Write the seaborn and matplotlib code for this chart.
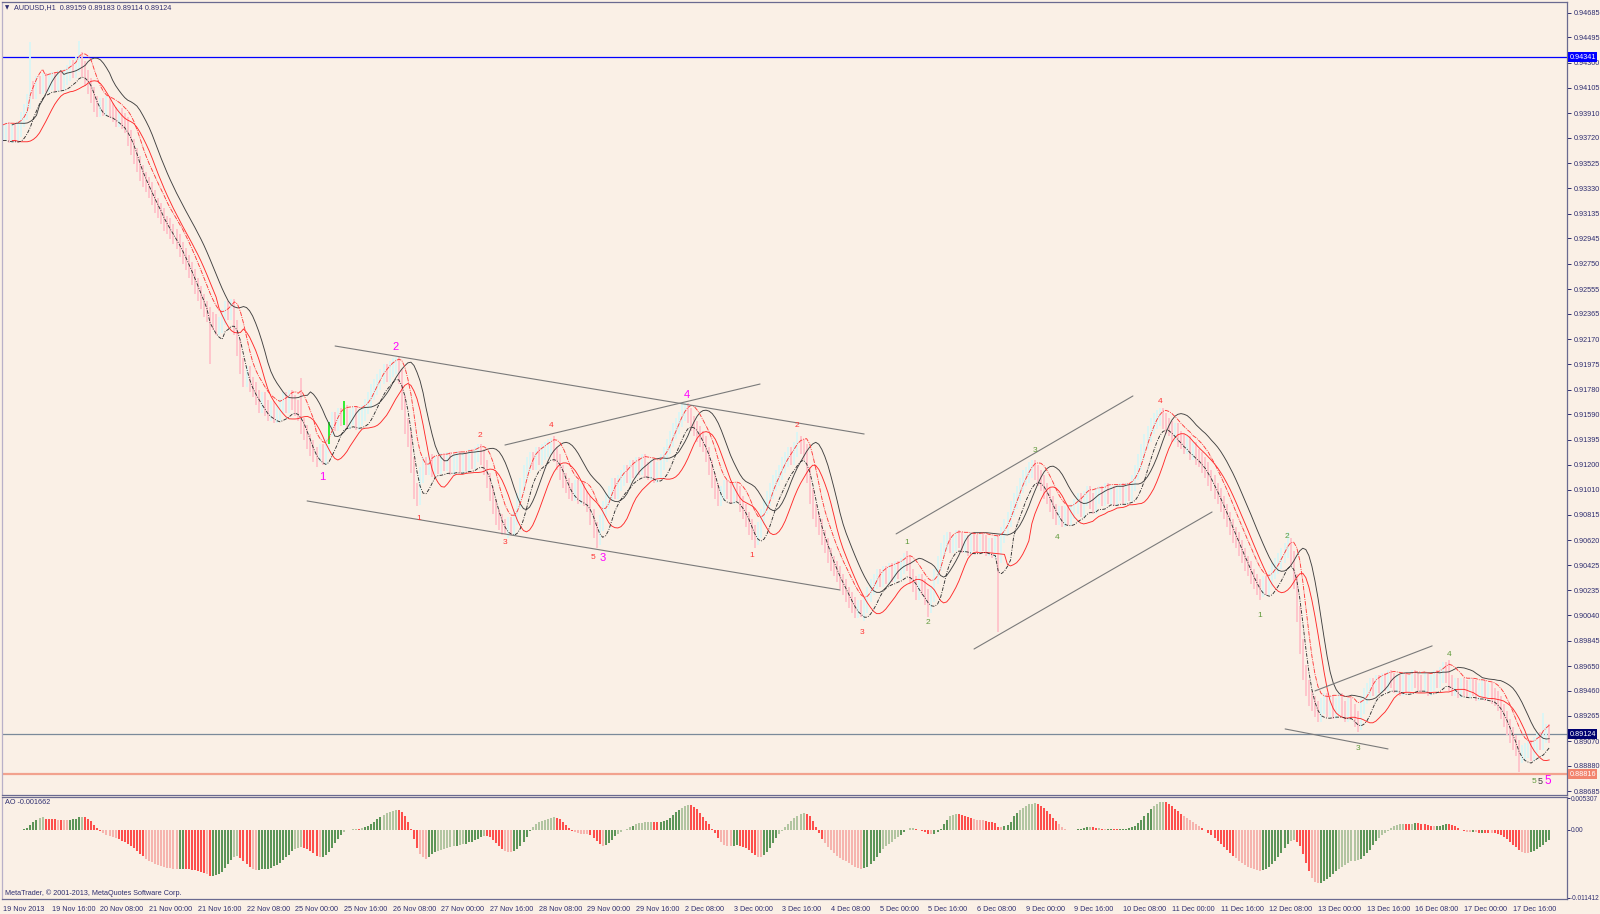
import numpy as np
import pandas as pd
import seaborn as sns
import matplotlib.pyplot as plt
from matplotlib.transforms import blended_transform_factory

# hourly closes (price x 10000), one row = 16 bars = one time label step
closes = [
    9376, 9378, 9374, 9377, 9375, 9379, 9386, 9392, 9400, 9410, 9408, 9414, 9412, 9416, 9413, 9415,
    9417, 9414, 9418, 9415, 9419, 9422, 9426, 9424, 9429, 9432, 9425, 9418, 9412, 9405, 9398, 9394,
    9397, 9395, 9398, 9393, 9390, 9386, 9389, 9385, 9382, 9372, 9365, 9358, 9352, 9345, 9340, 9336,
    9332, 9326, 9320, 9316, 9312, 9306, 9304, 9300, 9296, 9292, 9286, 9281, 9276, 9270, 9265, 9258,
    9252, 9246, 9240, 9236, 9232, 9230, 9226, 9228, 9234, 9240, 9238, 9242, 9226, 9210, 9196, 9186,
    9190, 9182, 9178, 9172, 9166, 9170, 9164, 9160, 9163, 9158, 9160, 9165, 9170, 9166, 9172, 9168,
    9164, 9160, 9150, 9145, 9138, 9133, 9128, 9124, 9130, 9126, 9135, 9148, 9155, 9152, 9158, 9156,
    9160, 9154, 9157, 9159, 9153, 9156, 9160, 9165, 9170, 9176, 9180, 9184, 9188, 9192, 9190, 9194,
    9196, 9198, 9188, 9168, 9150, 9140, 9120, 9100, 9095, 9112, 9120, 9118, 9122, 9117, 9121, 9119,
    9123, 9121, 9124, 9118, 9122, 9125, 9120, 9124, 9121, 9126, 9123, 9128, 9130, 9126, 9118, 9108,
    9098, 9088, 9080, 9076, 9072, 9070, 9074, 9072, 9080, 9092, 9104, 9114, 9120, 9124, 9122, 9128,
    9126, 9130, 9132, 9134, 9136, 9128, 9122, 9114, 9108, 9104, 9100, 9098, 9102, 9096, 9100, 9094,
    9090, 9080, 9070, 9064, 9075, 9086, 9092, 9098, 9104, 9100, 9106, 9110, 9114, 9112, 9118, 9116,
    9120, 9118, 9122, 9116, 9114, 9118, 9112, 9116, 9122, 9128, 9134, 9140, 9146, 9150, 9155, 9160,
    9162, 9158, 9152, 9148, 9144, 9140, 9136, 9128, 9118, 9108, 9100, 9094, 9098, 9102, 9100, 9096,
    9100, 9098, 9090, 9084, 9078, 9072, 9068, 9064, 9070, 9080, 9088, 9094, 9100, 9106, 9110, 9114,
    9120, 9124, 9128, 9126, 9132, 9136, 9134, 9130, 9112, 9096, 9084, 9078, 9072, 9064, 9058, 9050,
    9044, 9040, 9036, 9030, 9026, 9020, 9016, 9012, 9008, 9010, 9006, 9012, 9020, 9026, 9030, 9034,
    9032, 9036, 9034, 9038, 9036, 9040, 9038, 9042, 9046, 9044, 9034, 9028, 9022, 9030, 9026, 9018,
    9012, 9020, 9034, 9044, 9054, 9060, 9062, 9058, 9060, 9064, 9062, 9058, 9060, 9056, 9062, 9060,
    9058, 9062, 9060, 9056, 9058, 9054, 9060, 9050, 9066, 9072, 9078, 9086, 9092, 9098, 9104, 9110,
    9112, 9116, 9118, 9114, 9110, 9106, 9100, 9096, 9090, 9084, 9080, 9082, 9078, 9082, 9080, 9084,
    9088, 9092, 9086, 9094, 9098, 9092, 9088, 9096, 9098, 9094, 9100, 9096, 9098, 9094, 9098, 9100,
    9096, 9100, 9098, 9106, 9114, 9122, 9130, 9138, 9144, 9150, 9154, 9156, 9158, 9154, 9150, 9148,
    9144, 9146, 9140, 9138, 9134, 9136, 9130, 9132, 9126, 9124, 9120, 9116, 9110, 9106, 9100, 9096,
    9090, 9084, 9078, 9072, 9066, 9062, 9056, 9050, 9044, 9040, 9034, 9030, 9026, 9024, 9028, 9026,
    9032, 9038, 9042, 9046, 9050, 9054, 9058, 9048, 9030, 9005, 8980, 8960, 8948, 8940, 8936, 8932,
    8928, 8934, 8938, 8932, 8936, 8930, 8934, 8938, 8932, 8928, 8934, 8930, 8924, 8922, 8934, 8942,
    8946, 8950, 8948, 8952, 8950, 8954, 8952, 8956, 8954, 8950, 8952, 8948, 8954, 8950, 8952, 8956,
    8954, 8952, 8950, 8954, 8948, 8952, 8956, 8954, 8958, 8962, 8958, 8952, 8948, 8950, 8946, 8950,
    8948, 8946, 8950, 8948, 8944, 8946, 8948, 8944, 8946, 8942, 8940, 8936, 8930, 8924, 8918, 8912,
    8906, 8902, 8896, 8898, 8900, 8902, 8898, 8904, 8908, 8906, 8912, 8914, 8912,
]

# long wicks (bar index, price x 10000)
spike_hi_bars = [9, 25, 98, 129, 157, 180, 223, 261, 297, 339, 380, 422, 475, 506]
spike_hi_vals = [9446, 9447, 9187, 9203, 9136, 9141, 9168, 9145, 9054, 9124, 9164, 9068, 8970, 8929]
spike_lo_bars = [68, 104, 136, 165, 195, 247, 282, 304, 327, 413, 445, 498]
spike_lo_vals = [9198, 9122, 9088, 9067, 9056, 9056, 9003, 9003, 8991, 9016, 8914, 8883]

# bright green marker bars
green_bars = [107, 112]
green_lo = [0.91360, 0.91510]
green_hi = [0.91530, 0.91690]

date_labels = [
    "19 Nov 2013", "19 Nov 16:00", "20 Nov 08:00", "21 Nov 00:00", "21 Nov 16:00",
    "22 Nov 08:00", "25 Nov 00:00", "25 Nov 16:00", "26 Nov 08:00", "27 Nov 00:00",
    "27 Nov 16:00", "28 Nov 08:00", "29 Nov 00:00", "29 Nov 16:00", "2 Dec 08:00",
    "3 Dec 00:00", "3 Dec 16:00", "4 Dec 08:00", "5 Dec 00:00", "5 Dec 16:00",
    "6 Dec 08:00", "9 Dec 00:00", "9 Dec 16:00", "10 Dec 08:00", "11 Dec 00:00",
    "11 Dec 16:00", "12 Dec 08:00", "13 Dec 00:00", "13 Dec 16:00", "16 Dec 08:00",
    "17 Dec 00:00", "17 Dec 16:00",
]

price_ticks = [0.94685, 0.94495, 0.94300, 0.94105, 0.93910, 0.93720, 0.93525, 0.93330,
               0.93135, 0.92945, 0.92750, 0.92555, 0.92365, 0.92170, 0.91975, 0.91780,
               0.91590, 0.91395, 0.91200, 0.91010, 0.90815, 0.90620, 0.90425, 0.90235,
               0.90040, 0.89845, 0.89650, 0.89460, 0.89265, 0.89070, 0.88880, 0.88685]

# trendlines: (bar0, price0, bar1, price1)
trend_lines = [
    (109.1, 0.92116, 282.9, 0.91438),
    (99.9, 0.90922, 275.0, 0.90236),
    (164.9, 0.91353, 248.7, 0.91823),
    (293.4, 0.90668, 371.2, 0.91731),
    (319.0, 0.89781, 397.2, 0.90837),
    (431.0, 0.89458, 469.5, 0.89805),
    (421.2, 0.89165, 455.0, 0.89011),
]

# wave counts
wave_text = ["1", "2", "4", "3", "5",
             "1", "2", "3", "4", "5", "1", "2", "3", "4",
             "1", "2", "3", "4", "1", "2", "3", "4", "5", "5"]
wave_bar = [104.8, 128.8, 224.7, 197.1, 507.6,
            136.7, 156.7, 164.9, 180.0, 193.8, 246.1, 260.8, 282.2, 380.1,
            297.0, 303.9, 339.0, 346.3, 413.0, 421.8, 445.1, 475.0, 503.0, 505.1]
wave_price = [0.91107, 0.92109, 0.91739, 0.90483, 0.88762,
              0.90783, 0.91423, 0.90598, 0.91507, 0.90483, 0.90498, 0.91500, 0.89912, 0.91692,
              0.90598, 0.89982, 0.91307, 0.90637, 0.90043, 0.90645, 0.89011, 0.89735, 0.88758, 0.88758]
wave_color = ["#FF00FF"] * 5 + ["#FF3333"] * 9 + ["#5E9A3A"] * 9 + ["#404040"]
wave_size = [8, 8, 8, 8, 8.5] + [6] * 9 + [6] * 9 + [6.5]

bg = "#FAF0E6"
navy = "#2E2E70"

sns.set_style("white")
plt.rcParams["font.family"] = ["Liberation Sans", "DejaVu Sans"]

close = np.array(closes) / 10000.0
n = len(close)
bars = np.arange(n)
opn = np.r_[close[0], close[:-1]]
high = np.maximum(opn, close) + 0.0006
low = np.minimum(opn, close) - 0.0006
high[spike_hi_bars] = np.array(spike_hi_vals) / 10000.0
low[spike_lo_bars] = np.array(spike_lo_vals) / 10000.0

df = pd.DataFrame({"bar": bars, "open": opn, "high": high, "low": low, "close": close})
df["fast_hi"] = df["high"].rolling(5, min_periods=1).mean()
df["fast_lo"] = df["low"].rolling(5, min_periods=1).mean()
df["slow_hi"] = df["high"].rolling(8, min_periods=1).mean().shift(3)
df["slow_lo"] = df["low"].rolling(8, min_periods=1).mean().shift(3)
med = (df["high"] + df["low"]) / 2
df["ao"] = med.rolling(5, min_periods=1).mean() - med.rolling(34, min_periods=1).mean()
ac = df["ao"] - df["ao"].rolling(5, min_periods=1).mean()
up = df["ao"].diff().fillna(0) > 0
strong = (ac.diff().fillna(0) > 0) == up
ao_colors = np.where(up, np.where(strong, "#2E7A2E", "#9DB88C"),
                     np.where(strong, "#FF1E1E", "#F5A39E"))

W, H = 1600, 914
fig = plt.figure(figsize=(16, 9.14), dpi=100, facecolor=bg)
ax = fig.add_axes([2 / W, 1 - 795 / H, 1565 / W, 793 / H])
ax2 = fig.add_axes([2 / W, 1 - 899 / H, 1565 / W, 102 / H])

xlim = (-0.33, 513.8)
for a in (ax, ax2):
    a.set_facecolor(bg)
    a.set_xlim(*xlim)
    for s in a.spines.values():
        s.set_color("#6A6A90")
        s.set_linewidth(0.9)
    a.spines["left"].set_color("#B8B0C8")

ax.set_ylim(0.88656, 0.94767)

# level lines
ax.axhline(0.94341, color="#0000FF", lw=0.9, zorder=1)
ax.axhline(0.89124, color="#7A8A9A", lw=0.9, zorder=1)
ax.axhline(0.88816, color="#F2A28E", lw=1.6, zorder=1)

# bars
bull = df["close"] >= df["open"]
ax.vlines(df.loc[bull, "bar"], df.loc[bull, "low"], df.loc[bull, "high"],
          color="#D8F6F6", lw=1.3, zorder=2)
ax.vlines(df.loc[~bull, "bar"], df.loc[~bull, "low"], df.loc[~bull, "high"],
          color="#FFC2CA", lw=1.3, zorder=2)
ax.vlines(green_bars, green_lo, green_hi, color="#22EE22", lw=1.3, zorder=3)

# channel lines
sns.lineplot(data=df, x="bar", y="slow_hi", ax=ax, color="#404040", lw=0.65, zorder=4, estimator=None)
sns.lineplot(data=df, x="bar", y="slow_lo", ax=ax, color="#FF2A2A", lw=0.65, zorder=4, estimator=None)
sns.lineplot(data=df, x="bar", y="fast_hi", ax=ax, color="#FF3A3A", lw=0.65, zorder=4,
             estimator=None, linestyle=(0, (5, 1.2, 1, 1.2)))
sns.lineplot(data=df, x="bar", y="fast_lo", ax=ax, color="#303030", lw=0.65, zorder=4,
             estimator=None, linestyle=(0, (4, 1.5, 1, 1.5)))

for b0, p0, b1, p1 in trend_lines:
    ax.plot([b0, b1], [p0, p1], color="#7A7A7A", lw=0.8, zorder=5)

for t, b, p, c, s in zip(wave_text, wave_bar, wave_price, wave_color, wave_size):
    ax.text(b, p, t, color=c, fontsize=s, ha="center", va="center", zorder=6)

ax.set_xticks([])
ax.set_xlabel("")
ax.set_ylabel("")
ax.yaxis.tick_right()
ax.set_yticks(price_ticks)
ax.set_yticklabels([f"{v:.5f}" for v in price_ticks])
ax.tick_params(axis="y", direction="out", length=3, width=0.7, color=navy,
               labelsize=5.2, labelcolor=navy, pad=2)

tr = blended_transform_factory(ax.transAxes, ax.transData)
for val, fc in [(0.94341, "#0000FF"), (0.89124, "#000070"), (0.88816, "#F2846E")]:
    ax.text(1.0015, val, f"{val:.5f}", transform=tr, ha="left", va="center",
            fontsize=5.2, color="white",
            bbox=dict(boxstyle="square,pad=0.18", fc=fc, ec="none"))

# AO panel
ax2.vlines(df["bar"], 0, df["ao"], colors=ao_colors, lw=1.1)
ax2.set_ylim(-0.01160, 0.00549)
ax2.set_ylabel("")
ax2.yaxis.tick_right()
ax2.set_yticks([0.005307, 0.0, -0.011412])
ax2.set_yticklabels(["0.005307", "0.00", "-0.011412"])
ax2.tick_params(axis="y", direction="out", length=2, width=0.7, color=navy,
                labelsize=4.7, labelcolor=navy, pad=1)
ax2.set_xticks(np.arange(len(date_labels)) * 16)
ax2.set_xticklabels(date_labels, ha="left")
ax2.tick_params(axis="x", direction="out", length=3, width=0.7, color=navy,
                labelsize=5.2, labelcolor=navy, pad=2)

fig.text(5 / W, 1 - 8 / H, "\u25bc", fontsize=4, color=navy, va="center", family="DejaVu Sans")
fig.text(14 / W, 1 - 8 / H, "AUDUSD,H1  0.89159 0.89183 0.89114 0.89124",
         fontsize=5.2, color=navy, va="center")
fig.text(5 / W, 1 - 803 / H, "AO -0.001662", fontsize=5.2, color=navy, va="center")
fig.text(5 / W, 1 - 893 / H, "MetaTrader, \u00a9 2001-2013, MetaQuotes Software Corp.",
         fontsize=5.2, color=navy, va="center")

fig.savefig("out.png", dpi=100, facecolor=bg)
